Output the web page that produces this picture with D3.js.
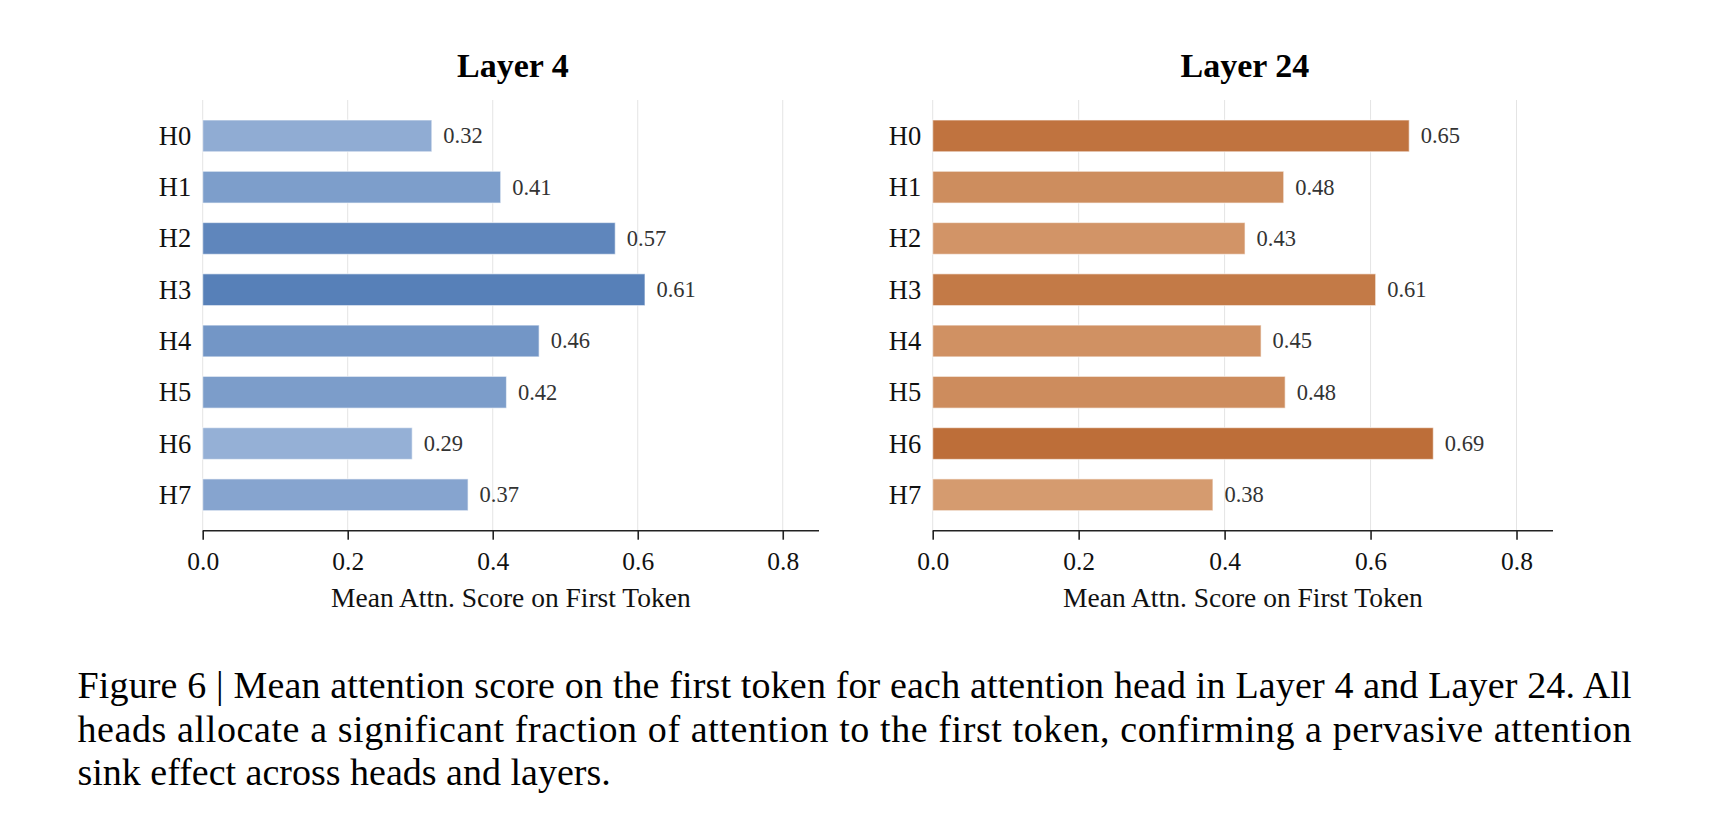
<!DOCTYPE html>
<html>
<head>
<meta charset="utf-8">
<script src="https://cdn.jsdelivr.net/npm/d3@7"></script>
<style>
  html, body { margin: 0; padding: 0; background: #fff; }
  svg { display: block; }
</style>
</head>
<body>
<svg id="chart" width="1716" height="816"></svg>
<script>
// ---- data ----
const heads = ["H0", "H1", "H2", "H3", "H4", "H5", "H6", "H7"];
const layer4Values = [0.316, 0.411, 0.569, 0.610, 0.464, 0.419, 0.289, 0.366];
const layer24Values = [0.653, 0.481, 0.428, 0.607, 0.450, 0.483, 0.686, 0.384];
const panelTitles = ["Layer 4", "Layer 24"];
const xTicks = [0.0, 0.2, 0.4, 0.6, 0.8];
const xLabel = "Mean Attn. Score on First Token";
const captionLines = [
  "Figure 6 | Mean attention score on the first token for each attention head in Layer 4 and Layer 24. All",
  "heads allocate a significant fraction of attention to the first token, confirming a pervasive attention",
  "sink effect across heads and layers."
];

// ---- layout ----
const svg = d3.select("#chart");
const serif = "'Liberation Serif', 'Times New Roman', serif";
const yTop = 100, yBottom = 530.7;
const panels = [
  { title: panelTitles[0], values: layer4Values, x0: 202.7, x1: 819, light: "#95B0D6", dark: "#5780B8" },
  { title: panelTitles[1], values: layer24Values, x0: 932.7, x1: 1553, light: "#D59B6F", dark: "#BD6E39" }
];

const y = d3.scaleLinear().domain([-0.7, 7.7]).range([yTop, yBottom]);
const barH = y(0.31) - y(-0.31);
const fmt = d3.format(".2f");

panels.forEach(p => {
  const x = d3.scaleLinear().domain([0, 0.85]).range([p.x0, p.x1]);
  const color = d3.scaleLinear()
    .domain([d3.min(p.values), d3.max(p.values)])
    .range([p.light, p.dark])
    .interpolate(d3.interpolateRgb);
  const g = svg.append("g");

  // grid
  g.selectAll("line.grid").data(xTicks).join("line")
    .attr("class", "grid")
    .attr("x1", d => x(d)).attr("x2", d => x(d))
    .attr("y1", yTop).attr("y2", yBottom)
    .attr("stroke", "#e4e4e4").attr("stroke-width", 1);

  // bars
  g.selectAll("rect.bar").data(p.values).join("rect")
    .attr("class", "bar")
    .attr("x", x(0))
    .attr("y", (d, i) => y(i) - barH / 2)
    .attr("width", d => x(d) - x(0))
    .attr("height", barH)
    .attr("fill", d => color(d))
    .attr("stroke", "#ffffff").attr("stroke-opacity", 0.55).attr("stroke-width", 1.2);

  // value labels
  g.selectAll("text.val").data(p.values).join("text")
    .attr("class", "val")
    .attr("x", d => x(d) + 11.5)
    .attr("y", (d, i) => y(i) + 7.5)
    .attr("font-family", serif).attr("font-size", 22.5)
    .attr("fill", "#333333")
    .text(d => fmt(d));

  // y labels
  g.selectAll("text.ylab").data(heads).join("text")
    .attr("class", "ylab")
    .attr("x", x(0) - 11.5)
    .attr("y", (d, i) => y(i) + 9)
    .attr("text-anchor", "end")
    .attr("font-family", serif).attr("font-size", 26.5)
    .attr("fill", "#111")
    .text(d => d);

  // x axis
  const axis = d3.axisBottom(x).tickValues(xTicks).tickFormat(d3.format(".1f")).tickSize(9).tickPadding(6);
  const ag = g.append("g").attr("transform", `translate(0,${yBottom})`).call(axis);
  ag.select(".domain").attr("stroke", "#222").attr("stroke-width", 1.6).attr("d", `M${x(0)},0H${x(0.85)}`);
  ag.selectAll(".tick line").attr("stroke", "#222").attr("stroke-width", 1.6);
  ag.selectAll(".tick text")
    .attr("font-family", serif).attr("font-size", 25.5).attr("fill", "#111")
    .attr("dy", null).attr("y", 39.5);

  const cx = (x(0) + x(0.85)) / 2;
  g.append("text")
    .attr("x", cx).attr("y", 606.5)
    .attr("text-anchor", "middle")
    .attr("font-family", serif).attr("font-size", 27.5).attr("fill", "#111")
    .text(xLabel);

  g.append("text")
    .attr("x", cx + 2).attr("y", 77)
    .attr("text-anchor", "middle")
    .attr("font-family", serif).attr("font-size", 34).attr("font-weight", "bold").attr("fill", "#000")
    .text(p.title);
});

// caption
const capX = 77.5, capW = 1554;
const capY = [698, 741.5, 785];
captionLines.forEach((line, i) => {
  const t = svg.append("text")
    .attr("x", capX).attr("y", capY[i])
    .attr("font-family", serif).attr("font-size", 38).attr("fill", "#000")
    .text(line);
  if (i < 2) t.attr("textLength", capW).attr("lengthAdjust", "spacing");
});
</script>
</body>
</html>
